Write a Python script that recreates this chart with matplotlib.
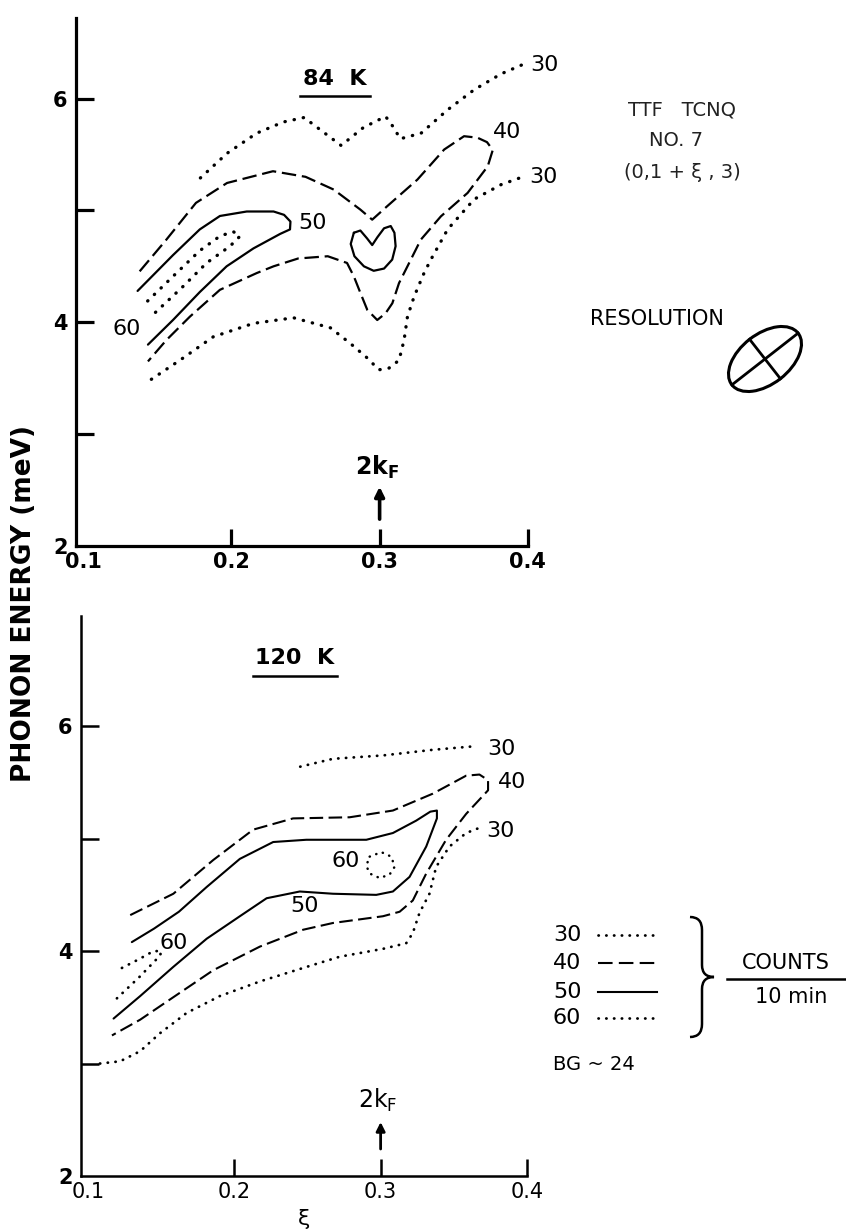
import matplotlib
matplotlib.use("Agg")
import matplotlib.pyplot as plt
from matplotlib.patches import Ellipse, PathPatch
from matplotlib.path import Path
import numpy as np

plt.rcParams['font.family'] = ['DejaVu Sans']

# ---- 84 K contours (xi, energy in meV) ----
t84_c30_hi_x = [0.179, 0.197, 0.217, 0.235, 0.249, 0.260, 0.274, 0.289, 0.304, 0.308, 0.314, 0.328, 0.346, 0.364, 0.382, 0.396]
t84_c30_hi_y = [5.29, 5.51, 5.69, 5.79, 5.83, 5.72, 5.58, 5.74, 5.84, 5.77, 5.64, 5.69, 5.90, 6.08, 6.22, 6.30]

t84_c40_x = [0.138, 0.156, 0.176, 0.197, 0.228, 0.250, 0.269, 0.287, 0.295, 0.305, 0.3255, 0.3436, 0.357, 0.366, 0.3725,
             0.3764, 0.373, 0.3594, 0.3414, 0.3278, 0.3188, 0.3131, 0.3086, 0.304, 0.2984, 0.2917, 0.2871, 0.2826,
             0.278, 0.265, 0.245, 0.2284, 0.2171, 0.1922, 0.1719, 0.156, 0.1436]
t84_c40_y = [4.455, 4.738, 5.067, 5.245, 5.35, 5.30, 5.186, 5.007, 4.917, 5.036, 5.275, 5.544, 5.663, 5.65, 5.61,
             5.54, 5.394, 5.156, 4.947, 4.738, 4.50, 4.35, 4.17, 4.08, 4.02, 4.11, 4.26, 4.41,
             4.53, 4.59, 4.57, 4.50, 4.44, 4.29, 4.05, 3.84, 3.65]

t84_c50_x = [0.1366, 0.1605, 0.1786, 0.1922, 0.2103, 0.2284, 0.2355, 0.2398, 0.2395, 0.2329, 0.2148, 0.1967, 0.1786, 0.1605, 0.1436]
t84_c50_y = [4.28, 4.60, 4.83, 4.95, 4.99, 4.99, 4.96, 4.90, 4.83, 4.79, 4.66, 4.50, 4.27, 4.02, 3.80]

t84_c50_loop_x = [0.2826, 0.2805, 0.2830, 0.2894, 0.2960, 0.3030, 0.3085, 0.3108, 0.3100, 0.3075, 0.3030, 0.2985,
                  0.2950, 0.2915, 0.2870, 0.2826]
t84_c50_loop_y = [4.80, 4.70, 4.59, 4.50, 4.46, 4.48, 4.56, 4.68, 4.80, 4.86, 4.84, 4.76,
                  4.69, 4.75, 4.82, 4.80]

t84_c60_x = [0.1434, 0.1605, 0.1786, 0.1922, 0.2012, 0.2058, 0.1990, 0.1832, 0.1673, 0.1480]
t84_c60_y = [4.19, 4.41, 4.64, 4.77, 4.81, 4.77, 4.68, 4.53, 4.32, 4.08]

t84_c30_lo_x = [0.1459, 0.1651, 0.1877, 0.2148, 0.2419, 0.2668, 0.2803, 0.2917, 0.2995, 0.3063, 0.3131, 0.3165,
                0.3188, 0.3233, 0.330, 0.3346, 0.3459, 0.3639, 0.382, 0.3967]
t84_c30_lo_y = [3.49, 3.66, 3.87, 3.99, 4.04, 3.95, 3.81, 3.68, 3.575, 3.59, 3.66, 3.84,
                4.05, 4.23, 4.44, 4.56, 4.83, 5.10, 5.23, 5.30]

# ---- 120 K contours ----
t120_c30_hi_x = [0.245, 0.2674, 0.3016, 0.3357, 0.363]
t120_c30_hi_y = [5.64, 5.71, 5.74, 5.79, 5.82]

t120_c40_x = [0.1287, 0.1582, 0.1855, 0.2128, 0.2401, 0.2788, 0.3084, 0.3357, 0.3585, 0.3676, 0.3735, 0.3735,
              0.3585, 0.3448, 0.3312, 0.322, 0.313, 0.3016, 0.2902, 0.2674, 0.247, 0.2174, 0.1855, 0.1582, 0.1355, 0.1162]
t120_c40_y = [4.32, 4.51, 4.81, 5.08, 5.18, 5.19, 5.25, 5.40, 5.56, 5.57, 5.52, 5.43,
              5.22, 4.99, 4.69, 4.45, 4.35, 4.31, 4.29, 4.25, 4.19, 4.04, 3.83, 3.59, 3.39, 3.25]

t120_c50_x = [0.1298, 0.145, 0.162, 0.181, 0.2037, 0.2265, 0.2492, 0.2902, 0.3084, 0.3243, 0.3340, 0.3385, 0.3385,
              0.3312, 0.3198, 0.3084, 0.297, 0.2674, 0.2447, 0.222, 0.2037, 0.181, 0.1582, 0.1355, 0.1173]
t120_c50_y = [4.08, 4.20, 4.35, 4.57, 4.82, 4.97, 4.99, 4.99, 5.05, 5.16, 5.24, 5.25, 5.18,
              4.93, 4.66, 4.53, 4.50, 4.51, 4.53, 4.47, 4.31, 4.11, 3.86, 3.60, 3.40]

t120_c60_a_x = [0.123, 0.135, 0.1446, 0.150, 0.1491, 0.135, 0.1196]
t120_c60_a_y = [3.85, 3.93, 4.00, 4.00, 3.96, 3.77, 3.58]

t120_c60_b_x = [0.2925, 0.3005, 0.3073, 0.3096, 0.3061, 0.2993, 0.2925, 0.2902, 0.2925]
t120_c60_b_y = [4.84, 4.88, 4.84, 4.75, 4.68, 4.65, 4.69, 4.76, 4.84]

t120_c30_lo_x = [0.108, 0.1218, 0.1355, 0.1491, 0.1673, 0.19, 0.2174, 0.247, 0.272, 0.3016, 0.3175, 0.322,
                 0.3266, 0.3334, 0.338, 0.3471, 0.3585, 0.3664]
t120_c30_lo_y = [3.0, 3.02, 3.11, 3.27, 3.45, 3.60, 3.73, 3.85, 3.95, 4.02, 4.07, 4.16,
                 4.34, 4.51, 4.75, 4.93, 5.05, 5.09]

# contour labels (text, x, y)
t84_labels = [('30', 0.4112, 6.30), ('40', 0.386, 5.70), ('30', 0.4105, 5.30), ('50', 0.2546, 4.89), ('60', 0.1292, 3.94)]
t120_labels = [('30', 0.3826, 5.80), ('40', 0.390, 5.50), ('30', 0.382, 5.07), ('60', 0.2761, 4.80),
               ('50', 0.2481, 4.40), ('60', 0.1587, 4.07)]

x_ticks = [0.1, 0.2, 0.3, 0.4]
x_ticklabels = ['0.1', '0.2', '0.3', '0.4']
y_ticks = [2, 3, 4, 5, 6]
y_ticklabels = ['2', '', '4', '', '6']

DOT = (0, (0.1, 2.7))
DASH = (0, (6.5, 2.6))


def dotted(ax, x, y, lw=2.4):
    ax.plot(x, y, color='black', lw=lw, linestyle=DOT, dash_capstyle='round')


def dashed(ax, x, y, lw=1.6):
    ax.plot(x, y, color='black', lw=lw, linestyle=DASH)


def solid(ax, x, y, lw=1.6):
    ax.plot(x, y, color='black', lw=lw, solid_capstyle='round', solid_joinstyle='round')


def style_axes(ax, ytop, lw, xweight):
    ax.set_xlim(0.095, 0.40)
    ax.set_ylim(2, ytop)
    ax.spines['top'].set_visible(False)
    ax.spines['right'].set_visible(False)
    ax.spines['left'].set_linewidth(lw)
    ax.spines['bottom'].set_linewidth(lw)
    ax.set_xticks(x_ticks)
    ax.set_xticklabels(x_ticklabels, fontsize=15, fontweight=xweight)
    ax.set_yticks(y_ticks)
    ax.set_yticklabels(y_ticklabels, fontsize=15, fontweight='bold')
    ax.tick_params(axis='x', direction='in', length=12, width=lw, pad=4)
    ax.tick_params(axis='y', direction='in', length=13, width=lw, pad=6)
    ax.xaxis.get_major_ticks()[0].tick1line.set_visible(False)
    ax.yaxis.get_major_ticks()[0].tick1line.set_visible(False)
    ax.patch.set_alpha(0)


fig = plt.figure(figsize=(8.46, 12.3), dpi=100)
ax1 = fig.add_axes([0.0898, 0.5561, 0.534, 0.4293])
ax2 = fig.add_axes([0.0957, 0.0439, 0.527, 0.4553])

# top panel, 84 K
style_axes(ax1, 6.72, 2.3, 'bold')
dotted(ax1, t84_c30_hi_x, t84_c30_hi_y)
dashed(ax1, t84_c40_x, t84_c40_y)
solid(ax1, t84_c50_x, t84_c50_y)
solid(ax1, t84_c50_loop_x, t84_c50_loop_y)
dotted(ax1, t84_c60_x, t84_c60_y)
dotted(ax1, t84_c30_lo_x, t84_c30_lo_y)
for lab, lx, ly in t84_labels:
    ax1.text(lx, ly, lab, fontsize=16, ha='center', va='center')
ax1.text(0.270, 6.17, '84  K', fontsize=16, fontweight='bold', ha='center', va='center')
ax1.plot([0.2464, 0.2932], [6.02, 6.02], color='black', lw=1.8)
ax1.annotate('', xy=(0.3, 2.53), xytext=(0.3, 2.24),
             arrowprops=dict(arrowstyle='-|>', color='black', lw=2.6, mutation_scale=14, shrinkA=0, shrinkB=0))
ax1.text(0.2985, 2.58, r'$\mathbf{2k_F}$', fontsize=17, ha='center', va='bottom')

# bottom panel, 120 K
style_axes(ax2, 6.98, 1.8, 'normal')
dotted(ax2, t120_c30_hi_x, t120_c30_hi_y, lw=2.0)
dashed(ax2, t120_c40_x, t120_c40_y, lw=1.5)
solid(ax2, t120_c50_x, t120_c50_y, lw=1.5)
dotted(ax2, t120_c60_a_x, t120_c60_a_y, lw=2.0)
dotted(ax2, t120_c60_b_x, t120_c60_b_y, lw=1.8)
dotted(ax2, t120_c30_lo_x, t120_c30_lo_y, lw=2.0)
for lab, lx, ly in t120_labels:
    ax2.text(lx, ly, lab, fontsize=16, ha='center', va='center')
ax2.text(0.2413, 6.61, '120  K', fontsize=16, fontweight='bold', ha='center', va='center')
ax2.plot([0.2126, 0.2700], [6.45, 6.45], color='black', lw=1.8)
ax2.annotate('', xy=(0.3, 2.48), xytext=(0.3, 2.24),
             arrowprops=dict(arrowstyle='-|>', color='black', lw=2.0, mutation_scale=13, shrinkA=0, shrinkB=0))
ax2.text(0.298, 2.55, r'$\mathrm{2k_F}$', fontsize=17, ha='center', va='bottom')
ax2.set_xlabel('ξ', fontsize=16, labelpad=5)

fig.text(24 / 846, 1 - 604 / 1230, 'PHONON ENERGY (meV)', rotation=90, fontsize=19,
         fontweight='bold', ha='center', va='center')

# overlay in pixel units for the side annotations
ov = fig.add_axes([0, 0, 1, 1])
ov.set_xlim(0, 846)
ov.set_ylim(1230, 0)
ov.axis('off')

ov.text(682, 110, 'TTF   TCNQ', fontsize=14, ha='center', va='center', color='#222222')
ov.text(676, 140, 'NO. 7', fontsize=14, ha='center', va='center', color='#222222')
ov.text(682, 172, '(0,1 + ξ , 3)', fontsize=14, ha='center', va='center', color='#222222')
ov.text(657, 319, 'RESOLUTION', fontsize=15, ha='center', va='center')

# resolution ellipse with its axes
cx, cy, a, b, ang = 765, 359, 42, 25, -38
ov.add_patch(Ellipse((cx, cy), 2 * a, 2 * b, angle=ang, fill=False, lw=2.2, color='black'))
th = np.deg2rad(ang)
ov.plot([cx - a * np.cos(th), cx + a * np.cos(th)], [cy - a * np.sin(th), cy + a * np.sin(th)], color='black', lw=2)
ov.plot([cx + b * np.sin(th), cx - b * np.sin(th)], [cy - b * np.cos(th), cy + b * np.cos(th)], color='black', lw=2)

# legend for contour levels
leg_levels = ['30', '40', '50', '60']
leg_rows = [935, 963, 992, 1018]
leg_styles = ['dot', 'dash', 'solid', 'dot']
for lev, ry, st in zip(leg_levels, leg_rows, leg_styles):
    ov.text(553, ry, lev, fontsize=16, ha='left', va='center')
    if st == 'dot':
        ov.plot([598, 655], [ry, ry], color='black', lw=2.0, linestyle=DOT, dash_capstyle='round')
    elif st == 'dash':
        ov.plot([598, 655], [ry, ry], color='black', lw=1.5, linestyle=(0, (7, 3)))
    else:
        ov.plot([598, 657], [ry, ry], color='black', lw=1.5)

brace = Path([(690, 917), (702, 917), (702, 930), (702, 965), (702, 977), (714, 977),
              (702, 977), (702, 989), (702, 1024), (702, 1037), (690, 1037)],
             [Path.MOVETO, Path.CURVE3, Path.CURVE3, Path.LINETO, Path.CURVE3, Path.CURVE3,
              Path.CURVE3, Path.CURVE3, Path.LINETO, Path.CURVE3, Path.CURVE3])
ov.add_patch(PathPatch(brace, fill=False, lw=1.8, color='black'))

ov.text(786, 963, 'COUNTS', fontsize=15, ha='center', va='center')
ov.plot([727, 845], [979, 979], color='black', lw=1.8)
ov.text(791, 997, '10 min', fontsize=15, ha='center', va='center')
ov.text(553, 1065, 'BG ~ 24', fontsize=14, ha='left', va='center')

fig.savefig('out.png', dpi=100)
